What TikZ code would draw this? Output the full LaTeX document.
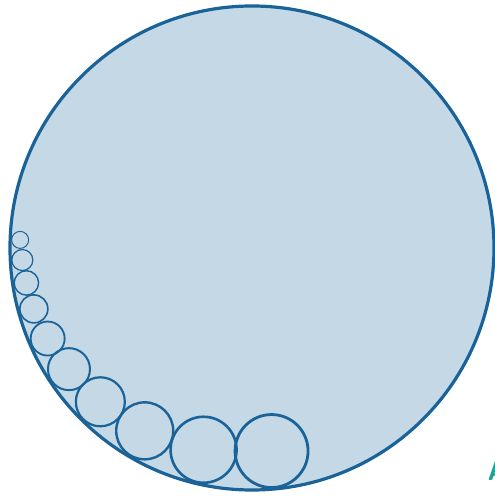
\documentclass[tikz,border=0pt]{standalone}
\usetikzlibrary{calc}
\definecolor{discfill}{HTML}{C5D8E6}
\definecolor{ringblue}{HTML}{1A6399}
\definecolor{markteal}{HTML}{1FA391}

\begin{document}
\begin{tikzpicture}[
    x=1pt, y=1pt,
    ring/.style={draw=ringblue},
    mark label/.style={text=markteal, inner sep=0pt, anchor=south west,
      font=\fontsize{28}{28}\selectfont\sffamily\bfseries}
  ]
    \useasboundingbox (0,0) rectangle (495,496);
    \clip (0,0) rectangle (495,496);

    % Outer disc
    \coordinate (O) at (252,248);
    \fill[discfill] (O) circle (242);

    % Chain of small circles along the lower left rim
    \foreach \r/\a/\w in {36.5/275.5/2.8, 33/256.5/2.6, 28.5/239.6/2.4,
        24.5/225.4/2.2, 21/213.5/2.0, 17/203.9/1.8, 14/195.6/1.6,
        12.2/188.8/1.4, 10.5/183.0/1.2, 8.5/178.0/1.0}
      \draw[ring, line width=\w] ($(O)+(\a:{240.5-\r})$) circle (\r);

    \draw[ring, line width=3.2] (O) circle (242);

    % Label cut off at the corner
    \node[mark label] (cornerA) at (487.5,15) {A};
\end{tikzpicture}
\end{document}
